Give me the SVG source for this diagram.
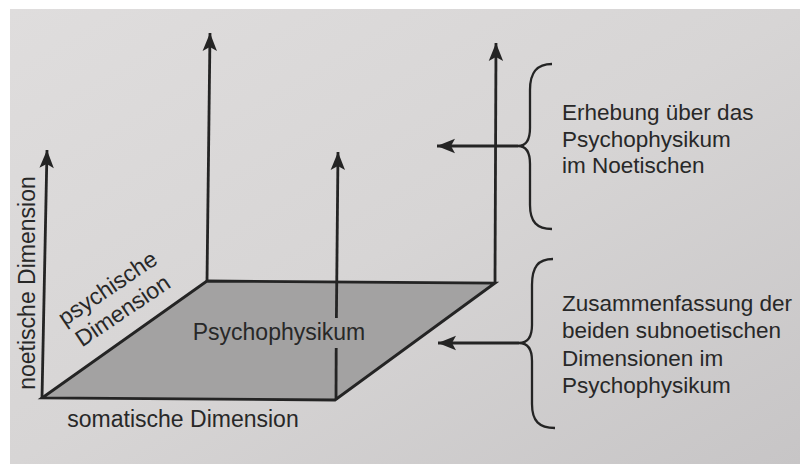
<svg xmlns="http://www.w3.org/2000/svg" width="800" height="464" viewBox="0 0 800 464">
<defs>
<linearGradient id="bg" x1="0" y1="0" x2="1" y2="1">
<stop offset="0" stop-color="#dfdddd"/>
<stop offset="0.5" stop-color="#d7d5d5"/>
<stop offset="1" stop-color="#c7c5c6"/>
</linearGradient>
<marker id="ah" viewBox="-19 -8 20 16" refX="0" refY="0" markerWidth="20" markerHeight="16" markerUnits="userSpaceOnUse" orient="auto">
<path d="M0,0 L-18,-7.2 L-14,0 L-18,7.2 Z" fill="#242424"/>
</marker>
<style>
.ln{stroke:#242424;stroke-width:2.8;fill:none;stroke-linecap:butt}
.ar{stroke:#242424;stroke-width:2.8;fill:none;marker-end:url(#ah)}
.br{stroke:#242424;stroke-width:2.3;fill:none}
.t{font-family:"Liberation Sans","DejaVu Sans",sans-serif;font-size:23px;fill:#282828}
.tr{font-family:"Liberation Sans","DejaVu Sans",sans-serif;font-size:22.5px;fill:#282828}
</style>
</defs>
<rect x="0" y="0" width="800" height="464" fill="#ffffff"/>
<rect x="10" y="9" width="790" height="455" fill="url(#bg)"/>

<g id="plane">
<path d="M42,398 L207,281 L495,283 L335,400 Z" fill="#a3a2a2" stroke="#242424" stroke-width="2.8" stroke-linejoin="miter"/>
<text class="t" x="279" y="340" text-anchor="middle">Psychophysikum</text>
</g>

<g id="connectors">
<line class="ar" x1="42" y1="398" x2="47" y2="150"/>
<line class="ar" x1="207" y1="281" x2="210" y2="33"/>
<line class="ln" x1="336" y1="400" x2="336.2" y2="348"/>
<line class="ar" x1="336.4" y1="318" x2="338" y2="152"/>
<line class="ar" x1="495" y1="283" x2="496" y2="43"/>
<line class="ar" x1="518" y1="146" x2="437" y2="146"/>
<line class="ar" x1="519" y1="343" x2="438" y2="343"/>
</g>

<g id="axis-noetic">
<text class="t" transform="translate(35,283) rotate(-90)" text-anchor="middle">noetische Dimension</text>
</g>
<g id="axis-psychic">
<g transform="translate(127,317) rotate(-34)">
<text class="t" x="0" y="-27" text-anchor="middle">psychische</text>
<text class="t" x="0" y="0" text-anchor="middle">Dimension</text>
</g>
</g>
<g id="axis-somatic">
<text class="t" x="183" y="427" text-anchor="middle">somatische Dimension</text>
</g>

<g id="brace-noetic">
<path class="br" d="M552,64 C537,64 530,72 530,90 L530,128 C530,140 526,146 518,146 C526,146 530,152 530,164 L530,205 C530,222 537,229 552,229"/>
<text class="tr" x="562" y="120">Erhebung über das</text>
<text class="tr" x="562" y="147">Psychophysikum</text>
<text class="tr" x="562" y="173">im Noetischen</text>
</g>

<g id="brace-psychophysical">
<path class="br" d="M553,259 C538,259 532,267 532,285 L532,325 C532,337 528,343 519,343 C528,343 532,349 532,361 L532,404 C532,421 539,428 555,428"/>
<text class="tr" x="562" y="311">Zusammenfassung der</text>
<text class="tr" x="562" y="338">beiden subnoetischen</text>
<text class="tr" x="562" y="366">Dimensionen im</text>
<text class="tr" x="562" y="393">Psychophysikum</text>
</g>
</svg>
